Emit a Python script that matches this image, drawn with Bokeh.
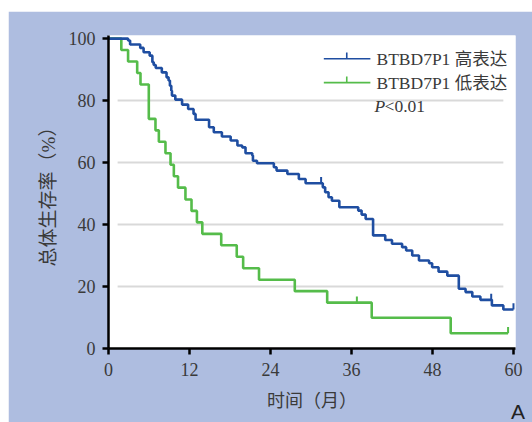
from bokeh.plotting import figure
from bokeh.models import Label, FixedTicker, Range1d
from bokeh.core.properties import value
from bokeh.embed import file_html
from bokeh.resources import INLINE

# ---------------- data ----------------
# High expression group: drop times (months) and survival (%) after each drop
high_t = [2.9, 3.2, 4.7, 5.2, 6.1, 6.5, 6.7, 7.0, 7.9, 8.6, 8.9, 9.1, 9.3, 9.4,
          9.9, 10.9, 11.8, 12.6, 12.9, 14.9, 15.6, 16.8, 18.1, 19.1, 19.8, 20.3,
          21.3, 21.4, 22.0, 24.5, 24.9, 26.5, 28.2, 29.2, 31.75, 32.1, 32.6, 33.1,
          34.2, 37.0, 37.5, 38.1, 39.2, 41.0, 42.0, 43.5, 44.1, 45.0, 46.0, 47.5,
          47.95, 48.9, 50.2, 51.9, 52.9, 53.9, 55.1, 56.8, 58.5]
high_s = [99.4, 98.1, 97.0, 95.6, 94.5, 92.4, 91.5, 90.5, 89.1, 87.5, 86.5, 84.8, 83.2, 81.6,
          80.3, 78.7, 77.3, 75.7, 73.8, 71.4, 69.8, 68.4, 67.1, 65.5, 64.9, 63.0,
          62.3, 60.6, 59.8, 58.5, 57.4, 56.3, 54.7, 53.3, 52.0, 50.4, 48.8, 47.7,
          45.6, 44.5, 43.2, 41.8, 36.5, 35.0, 33.8, 32.7, 31.6, 30.0, 28.4, 27.5,
          26.2, 24.8, 23.5, 19.3, 18.2, 16.8, 15.7, 13.9, 12.6]
high_end = 60.0
high_censor_t = [31.5, 56.7, 60.0]
high_censor_s = [53.3, 15.7, 12.6]

# Low expression group
low_t = [1.9, 2.9, 4.25, 4.74, 5.97, 6.96, 7.46, 8.44, 9.19, 9.68, 10.3, 11.4,
         12.3, 13.1, 13.9, 16.7, 19.0, 19.95, 22.3, 27.6, 32.4, 39.0, 50.7]
low_s = [96.3, 92.6, 88.9, 85.2, 74.1, 70.4, 66.7, 63.0, 59.3, 55.6, 51.9, 48.1,
         44.4, 40.7, 37.0, 33.3, 29.6, 25.9, 22.2, 18.5, 14.8, 9.9, 4.9]
low_end = 59.2
low_censor_t = [36.8, 59.2]
low_censor_s = [14.8, 4.9]

x_ticks = [0, 12, 24, 36, 48, 60]
y_ticks = [0, 20, 40, 60, 80, 100]
grid_levels = [20, 40, 60, 80]
series_names = ["BTBD7P1 高表达", "BTBD7P1 低表达"]
p_value_text = "<0.01"
x_title = "时间（月）"
y_title = "总体生存率（%）"
panel_tag = "A"

# ---------------- style ----------------
BLUE = "#1f4ea1"
GREEN = "#55bc4a"
BG = "#aebde0"
GRID = "#d9d9d9"
TXT = "#3a3a3a"
SERIF = "Liberation Serif, Noto Sans CJK SC"

p = figure(width=524, height=411, x_range=Range1d(0, 60.3), y_range=Range1d(0, 101),
           output_backend="svg", toolbar_location=None,
           min_border_left=100, min_border_right=17, min_border_top=24, min_border_bottom=74,
           border_fill_color=BG, background_fill_color="white", outline_line_color=None,
           margin=(11, 0, 0, 8))

p.xgrid.visible = False
p.ygrid.visible = False

# grid lines (inset, as in the reference)
p.segment(x0=[1.35] * len(grid_levels), x1=[58.5] * len(grid_levels),
          y0=grid_levels, y1=grid_levels, line_color=GRID, line_width=2)

def km_xy(ts, ss, end):
    xs = [0.0] + list(ts) + [end]
    ys = [100.0] + list(ss) + [ss[-1]]
    return xs, ys

lx, ly = km_xy(low_t, low_s, low_end)
hx, hy = km_xy(high_t, high_s, high_end)

CENSOR_H = 2.0
p.step(lx, ly, mode="after", line_color=GREEN, line_width=2.6)
p.segment(x0=low_censor_t, x1=low_censor_t, y0=low_censor_s,
          y1=[s + CENSOR_H for s in low_censor_s], line_color=GREEN, line_width=2)
p.step(hx, hy, mode="after", line_color=BLUE, line_width=2.6)
p.segment(x0=high_censor_t, x1=high_censor_t, y0=high_censor_s,
          y1=[s + CENSOR_H for s in high_censor_s], line_color=BLUE, line_width=2)

# axes
for ax in (p.xaxis[0], p.yaxis[0]):
    ax.axis_line_color = "black"
    ax.axis_line_width = 2.5
    ax.major_tick_line_color = "black"
    ax.major_tick_line_width = 2.5
    ax.major_tick_out = 6
    ax.major_tick_in = 0
    ax.minor_tick_line_color = None
    ax.major_label_text_font = SERIF
    ax.major_label_text_font_size = "18px"
    ax.major_label_text_color = TXT
    ax.axis_label_text_font = SERIF
    ax.axis_label_text_font_style = "normal"
    ax.axis_label_text_color = TXT

p.xaxis.ticker = FixedTicker(ticks=x_ticks)
p.yaxis.ticker = FixedTicker(ticks=y_ticks)
p.xaxis.major_label_standoff = 8
p.yaxis.major_label_standoff = 7
p.xaxis.axis_label = x_title
p.yaxis.axis_label = y_title
p.xaxis.axis_label_text_font_size = "18px"
p.yaxis.axis_label_text_font_size = "19px"
p.xaxis.axis_label_standoff = 12
p.yaxis.axis_label_standoff = 7

# legend (manual, with censor tick)
LEG_X0, LEG_X1, LEG_XM, LEG_TX = 31.9, 38.8, 35.3, 39.7
LEG_Y = [93.5, 85.8]
colors = [BLUE, GREEN]
p.segment(x0=[LEG_X0] * 2, x1=[LEG_X1] * 2, y0=LEG_Y, y1=LEG_Y, line_color=colors, line_width=1.6)
p.segment(x0=[LEG_XM] * 2, x1=[LEG_XM] * 2, y0=LEG_Y, y1=[y + CENSOR_H for y in LEG_Y],
          line_color=colors, line_width=1.6)
p.text(x=[LEG_TX] * 2, y=LEG_Y, text=series_names, text_font=value(SERIF),
       text_font_size="17.5px", text_color=TXT, text_baseline="middle", text_align="left")

p.add_layout(Label(x=39.4, y=78.2, text="P", text_font=SERIF, text_font_size="17.5px",
                   text_font_style="italic", text_color=TXT, text_baseline="middle"))
p.add_layout(Label(x=40.9, y=78.2, text=p_value_text, text_font=SERIF, text_font_size="17.5px",
                   text_color=TXT, text_baseline="middle"))

html = file_html(p, INLINE)
# panel tag in the bottom-right corner of the blue panel (outside the plot frame)
tag_div = ('<div style="position:absolute;left:511px;top:401px;margin:0;padding:0;'
           'font-family:\'Liberation Sans\';font-size:21px;line-height:21px;color:#222222;">'
           + panel_tag + '</div>')
html = html.replace("</body>", tag_div + "\n</body>")
open("out.html", "w").write(html)
